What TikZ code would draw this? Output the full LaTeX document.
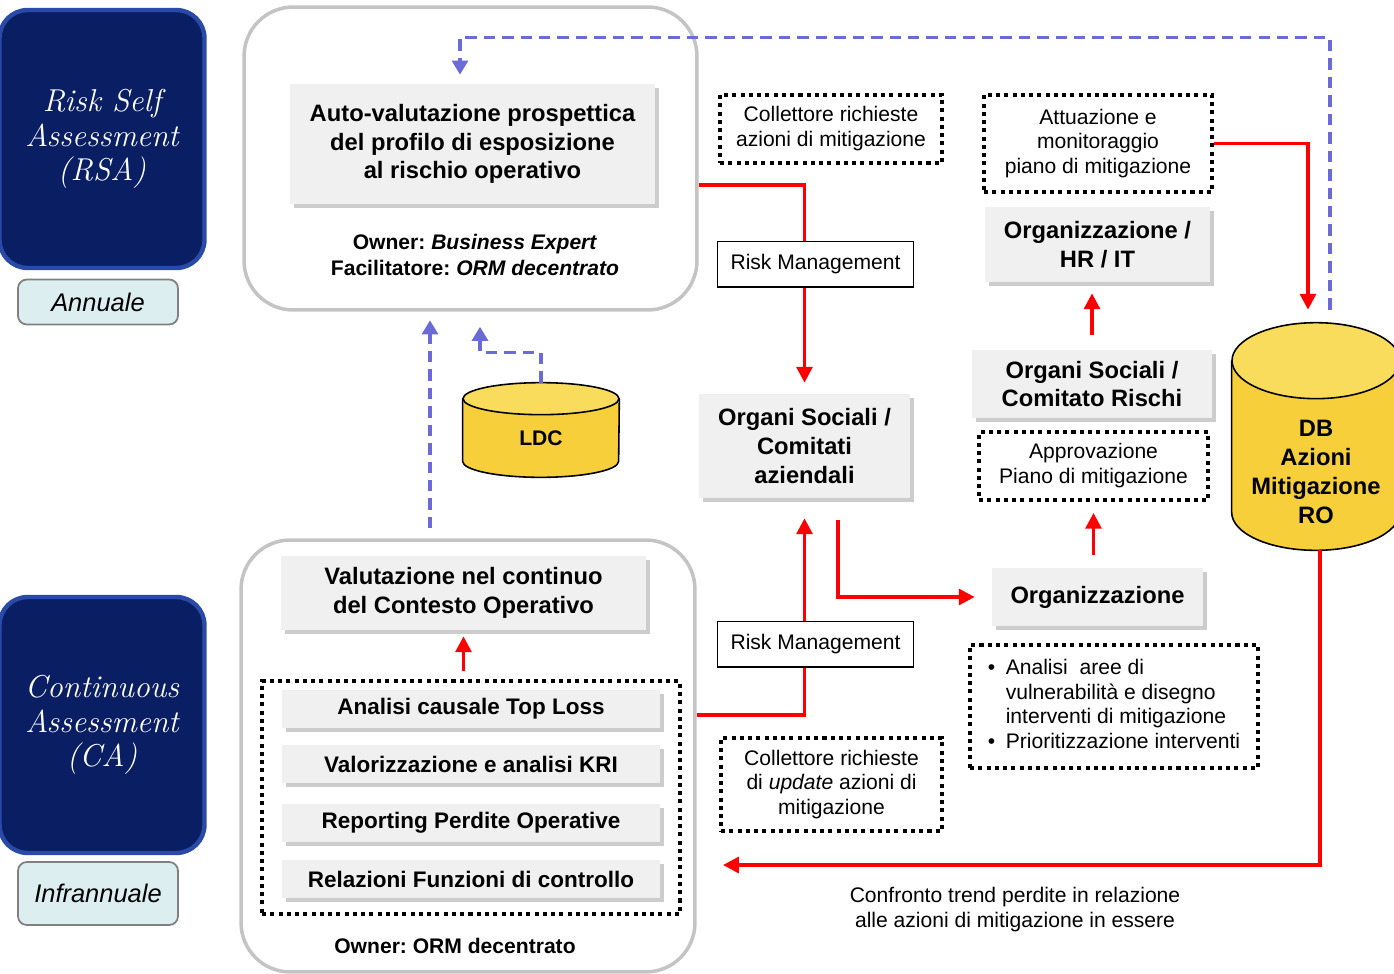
\documentclass[tikz,border=0pt]{standalone}
\usepackage{fontspec}
\setsansfont{Liberation Sans}
\renewcommand{\familydefault}{\sfdefault}
\frenchspacing
\usepackage{tikz}
\usetikzlibrary{arrows.meta,positioning,shapes.geometric,shadows}
\definecolor{navyfill}{HTML}{0A1E63}
\definecolor{navyedge}{HTML}{2A4AA8}
\definecolor{tagfill}{HTML}{DCEEF0}
\definecolor{boxgray}{HTML}{F0F0F0}
\definecolor{panelgray}{HTML}{C4C4C4}
\definecolor{flowred}{HTML}{FF0000}
\definecolor{loopblue}{HTML}{6B6BD8}
\definecolor{dbgold}{HTML}{F6CF3A}
\definecolor{dbtop}{HTML}{F9DC5C}

\begin{document}
\begin{tikzpicture}[x=0.02cm, y=-0.02cm,
  phase/.style={draw=navyedge, line width=2.5pt, fill=navyfill, rounded corners=16pt, text=white, align=center, font=\rmfamily\itshape\fontsize{18}{19.5}\selectfont},
  tag/.style={draw=gray, line width=1pt, fill=tagfill, rounded corners=5pt, font=\itshape\fontsize{14.5}{17}\selectfont},
  panel/.style={draw=panelgray, line width=2pt, rounded corners=28pt},
  gbox/.style={fill=boxgray, drop shadow={shadow xshift=2.5pt, shadow yshift=-2.5pt, opacity=0.4}, align=center, font=\bfseries\fontsize{13.5}{16.4}\selectfont},
  item/.style={gbox, minimum width=7.56cm, minimum height=0.76cm, font=\bfseries\fontsize{12.8}{15}\selectfont},
  dotbox/.style={draw, line width=2.2pt, dash pattern=on 2.3pt off 2.4pt, align=center, font=\fontsize{12}{14.2}\selectfont},
  rmbox/.style={draw=black, fill=white, text=black, line width=0.8pt, minimum width=3.92cm, minimum height=0.91cm, font=\fontsize{12}{14}\selectfont},
  cyl/.style={draw=black, line width=0.9pt},
  dblab/.style={align=center, font=\bfseries\fontsize{13.5}{16.4}\selectfont},
  note/.style={align=center, font=\bfseries\fontsize{12}{15.3}\selectfont},
  flow/.style={-{Triangle[length=9pt,width=9pt]}, draw=flowred, line width=2pt},
  loop/.style={-{Triangle[length=8pt,width=9pt]}, draw=loopblue, line width=2pt, dash pattern=on 6.5pt off 4pt}]
\useasboundingbox (0,0) rectangle (1394,974);

% phases
\node[phase, minimum width=4.1cm, minimum height=5.16cm] (rsa) at (102,139) {Risk Self\\Assessment\\(RSA)};
\node[tag, minimum width=3.2cm, minimum height=0.9cm] (annual) at (98,302) {Annuale};
\node[phase, minimum width=4.1cm, minimum height=5.12cm] (ca) at (102,725) {Continuous\\Assessment\\(CA)};
\node[tag, minimum width=3.2cm, minimum height=1.26cm] (infra) at (98,893.5) {Infrannuale};

% RSA panel
\node[panel, minimum width=9.06cm, minimum height=6.06cm] (panelA) at (470.5,158.5) {};
\node[gbox, minimum width=7.3cm, minimum height=2.4cm] (auto) at (472.5,144) {Auto-valutazione prospettica\\del profilo di esposizione\\al rischio operativo};
\node[note] (ownerA) at (475,255) {Owner: \textit{Business Expert}\\Facilitatore: \textit{ORM decentrato}};

% CA panel
\node[panel, minimum width=9.08cm, minimum height=8.64cm] (panelB) at (468,756) {};
\node[gbox, minimum width=7.3cm, minimum height=1.48cm] (valut) at (463.5,593) {Valutazione nel continuo\\del Contesto Operativo};
\node[dotbox, minimum width=8.36cm, minimum height=4.66cm] (kit) at (471,797.5) {};
\node[item] (toploss) at (471,709) {Analisi causale Top Loss};
\node[item] (kri) at (471,764) {Valorizzazione e analisi KRI};
\node[item] (perdite) at (471,823) {Reporting Perdite Operative};
\node[item] (controlli) at (471,879) {Relazioni Funzioni di controllo};
\node[note] (ownerB) at (455,946) {Owner: ORM decentrato};

% LDC cylinder
\node[minimum width=3.12cm, minimum height=1.88cm] (ldc) at (541,430) {};
\draw[cyl, fill=dbgold] ([yshift=-0.32cm]ldc.north west) -- ([yshift=0.32cm]ldc.south west)
  arc[start angle=180, end angle=360, x radius=1.56cm, y radius=0.32cm] -- ([yshift=-0.32cm]ldc.north east);
\draw[cyl, fill=dbtop] ([yshift=-0.32cm]ldc.north) ellipse[x radius=1.56cm, y radius=0.32cm];
\node[dblab, font=\bfseries\fontsize{12}{14}\selectfont] (ldctext) at (541,438) {LDC};

% middle column
\node[dotbox, minimum width=4.44cm, minimum height=1.36cm] (coll) at (831,129) {Collettore richieste\\azioni di mitigazione};
\node[gbox, minimum width=4.22cm, minimum height=2.08cm] (organi) at (804.5,446) {Organi Sociali /\\Comitati\\aziendali};
\node[dotbox, minimum width=4.42cm, minimum height=1.86cm] (collup) at (831.5,784.5) {Collettore richieste\\di \textit{update} azioni di\\mitigazione};

% right column
\node[dotbox, minimum width=4.56cm, minimum height=1.94cm] (attua) at (1098,143.5) {Attuazione e\\monitoraggio\\piano di mitigazione};
\node[gbox, minimum width=4.5cm, minimum height=1.5cm] (orghr) at (1097.5,244.5) {Organizzazione /\\HR / IT};
\node[gbox, minimum width=4.8cm, minimum height=1.36cm] (comitato) at (1092,384) {Organi Sociali /\\Comitato Rischi};
\node[dotbox, minimum width=4.58cm, minimum height=1.36cm] (approv) at (1093.5,466) {Approvazione\\Piano di mitigazione};
\node[gbox, minimum width=4.22cm, minimum height=1.16cm] (org) at (1097.5,597) {Organizzazione};
\node[dotbox, minimum width=5.76cm, minimum height=2.46cm, align=left] (interv) at (1114,706.5) {%
  \begin{tabular}{@{}l@{\hspace{6pt}}l@{}}
  \textbullet & Analisi\ \ aree di\\
  & vulnerabilità e disegno\\
  & interventi di mitigazione\\
  \textbullet & Prioritizzazione interventi
  \end{tabular}};

% DB cylinder
\node[minimum width=3.36cm, minimum height=4.54cm] (dbro) at (1316,436.5) {};
\draw[cyl, fill=dbgold] ([yshift=-0.76cm]dbro.north west) -- ([yshift=0.76cm]dbro.south west)
  arc[start angle=180, end angle=360, x radius=1.68cm, y radius=0.76cm] -- ([yshift=-0.76cm]dbro.north east);
\draw[cyl, fill=dbtop] ([yshift=-0.76cm]dbro.north) ellipse[x radius=1.68cm, y radius=0.76cm];
\node[dblab] (dbtext) at (1316,472) {DB\\Azioni\\Mitigazione\\RO};

\node[align=center, font=\fontsize{12}{14.2}\selectfont] (trend) at (1015,910) {Confronto trend perdite in relazione\\alle azioni di mitigazione in essere};
\coordinate (trendend) at (723,865);

% red flows
\draw[flow] ([yshift=-0.53cm]panelA.east) -| ([yshift=0.22cm]organi.north) node[rmbox, pos=0.7, xshift=0.22cm] (rmtop) {Risk Management};
\draw[flow] ([yshift=0.82cm]panelB.east) -| ([yshift=-0.4cm]organi.south) node[rmbox, pos=0.68, xshift=0.22cm] (rmbot) {Risk Management};
\draw[flow] ([xshift=0.67cm,yshift=-0.44cm]organi.south) |- ([xshift=-0.34cm]org.west);
\draw[flow, shorten <=0.16cm, shorten >=0.12cm] (valut.south |- kit.north) -- (valut.south);
\draw[flow, shorten <=0.26cm, shorten >=0.22cm] (approv.south |- org.north) -- (approv.south);
\draw[flow, shorten <=0.3cm, shorten >=0.22cm] (comitato.north) -- (comitato.north |- orghr.south);
\draw[flow] (attua.east) -| ([xshift=-0.16cm,yshift=0.26cm]dbro.north);
\draw[flow] ([xshift=0.08cm]dbro.south) |- (trendend);

% blue feedback
\draw[loop] ([xshift=0.28cm,yshift=0.26cm]dbro.north) -- ++(0,-272) -| ([xshift=-0.25cm,yshift=0.18cm]auto.north);
\draw[loop] (ldc.north) -- ++(0,-30) -| ([xshift=0.19cm,yshift=-0.3cm]panelA.south);
\draw[loop] ([xshift=-0.76cm,yshift=0.2cm]panelB.north) -- ++(0,-208);
\end{tikzpicture}
\end{document}
